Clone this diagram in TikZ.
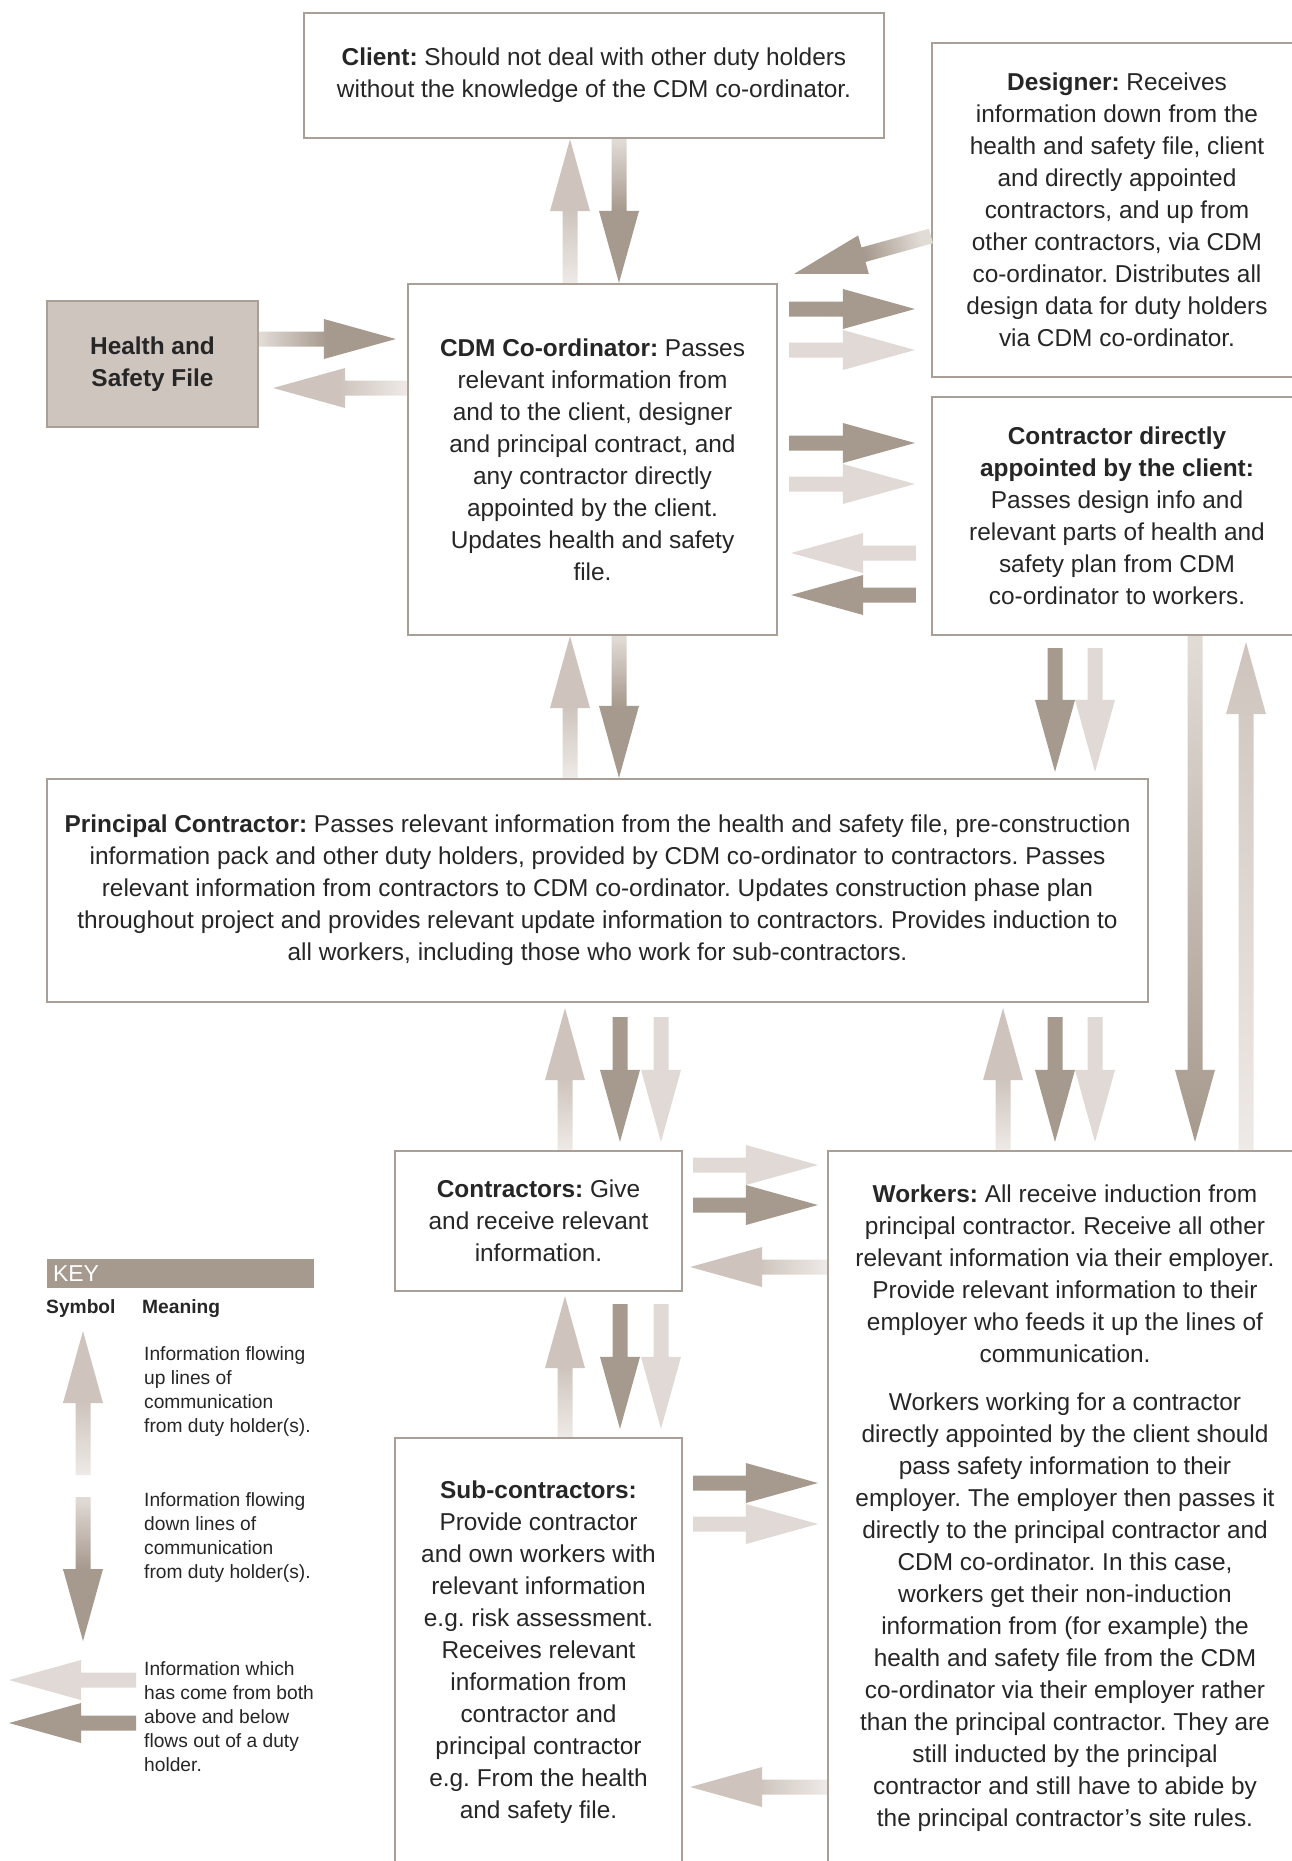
\documentclass[tikz,border=0pt]{standalone}
\usepackage{fontspec}
\setmainfont{Liberation Sans}
\usepackage{tikz}
\usetikzlibrary{calc, positioning}
\frenchspacing

\definecolor{boxline}{RGB}{170,159,150}
\definecolor{ink}{RGB}{38,38,38}
\definecolor{flowdark}{RGB}{166,153,141}
\definecolor{flowup}{RGB}{206,196,189}
\definecolor{flowpale}{RGB}{224,217,213}
\definecolor{uptail}{RGB}{238,234,231}
\definecolor{darktail}{RGB}{226,220,215}
\definecolor{filefill}{RGB}{207,197,191}

\newcommand{\bodyfont}{\fontsize{24.4}{32}\selectfont}
\newcommand{\keyfont}{\fontsize{19.2}{24}\selectfont}

% block arrow from tail #2 to tip #3
\newcommand{\flowarrow}[3][darkflow]{%
  \coordinate (ft) at #2;
  \coordinate (fh) at #3;
  \coordinate (fb) at ($(fh)!72pt!(ft)$);
  \path[#1] ($(ft)!7.5pt!90:(fh)$) -- ($(fb)!7.5pt!-90:(ft)$)
    -- ($(fb)!20pt!-90:(ft)$) -- (fh) -- ($(fb)!20pt!90:(ft)$)
    -- ($(fb)!7.5pt!90:(ft)$) -- ($(ft)!7.5pt!-90:(fh)$) -- cycle;
}

\begin{document}
\begin{tikzpicture}[
        x=1pt, y=-1pt,
        dutybox/.style={
            draw=boxline, line width=2.2pt, fill=white,
            align=center, inner sep=0pt, text=ink, font=\bodyfont
        },
        darkflow/.style={fill=flowdark},
        paleflow/.style={fill=flowpale},
        upfade/.style={bottom color=uptail, top color=flowup, middle color=flowup},
        darkfade/.style={bottom color=darktail, top color=flowdark, middle color=flowdark},
        point up/.style={shading angle=0},
        point down/.style={shading angle=180},
        point left/.style={shading angle=90},
        point right/.style={shading angle=270},
        keytext/.style={anchor=west, align=left, inner sep=0pt, text=ink, font=\keyfont}
    ]
        \useasboundingbox (0,0) rectangle (1292,1861);

        % duty holders
        \node[dutybox, minimum width=580, minimum height=125] (client) at (594,75.5) {
            \textbf{Client:} Should not deal with other duty holders\\
            without the knowledge of the CDM co-ordinator.
        };
        \node[dutybox, minimum width=370, minimum height=334] (designer) at (1117,210) {
            \textbf{Designer:} Receives\\information down from the\\
            health and safety file, client\\and directly appointed\\
            contractors, and up from\\other contractors, via CDM\\
            co-ordinator. Distributes all\\design data for duty holders\\
            via CDM co-ordinator.
        };
        \node[dutybox, minimum width=369, minimum height=351] (cdm) at (592.5,459.5) {
            \textbf{CDM Co-ordinator:} Passes\\relevant information from\\
            and to the client, designer\\and principal contract, and\\
            any contractor directly\\appointed by the client.\\
            Updates health and safety\\file.
        };
        \node[dutybox, fill=filefill, font=\bodyfont\bfseries, minimum width=211, minimum height=126] (hsf) at (152.5,364) {
            Health and\\Safety File
        };
        \node[dutybox, minimum width=370, minimum height=238] (direct) at (1117,516) {
            \textbf{Contractor directly}\\\textbf{appointed by the client:}\\
            Passes design info and\\relevant parts of health and\\
            safety plan from CDM\\co-ordinator to workers.
        };
        \node[dutybox, minimum width=1101, minimum height=223] (principal) at (597.5,890.5) {
            \textbf{Principal Contractor:} Passes relevant information from the health and safety file, pre-construction\\
            information pack and other duty holders, provided by CDM co-ordinator to contractors. Passes\\
            relevant information from contractors to CDM co-ordinator. Updates construction phase plan\\
            throughout project and provides relevant update information to contractors. Provides induction to\\
            all workers, including those who work for sub-contractors.
        };
        \node[dutybox, minimum width=287, minimum height=140] (contractors) at (538.5,1221) {
            \textbf{Contractors:} Give\\and receive relevant\\information.
        };
        \node[dutybox, minimum width=474, minimum height=715] (workers) at (1065,1508.5) {
            \textbf{Workers:} All receive induction from\\principal contractor. Receive all other\\
            relevant information via their employer.\\Provide relevant information to their\\
            employer who feeds it up the lines of\\communication.\\[16pt]
            Workers working for a contractor\\directly appointed by the client should\\
            pass safety information to their\\employer. The employer then passes it\\
            directly to the principal contractor and\\CDM co-ordinator. In this case,\\
            workers get their non-induction\\information from (for example) the\\
            health and safety file from the CDM\\co-ordinator via their employer rather\\
            than the principal contractor. They are\\still inducted by the principal\\
            contractor and still have to abide by\\the principal contractor’s site rules.
        };
        \node[dutybox, minimum width=287, minimum height=428] (sub) at (538.5,1652) {
            \textbf{Sub-contractors:}\\Provide contractor\\and own workers with\\
            relevant information\\e.g. risk assessment.\\Receives relevant\\
            information from\\contractor and\\principal contractor\\
            e.g. From the health\\and safety file.
        };

        % client <-> cdm
        \flowarrow[upfade, point up]{(570,0 |- cdm.north)}{(570,0 |- client.south)}
        \flowarrow[darkfade, point down]{(619,0 |- client.south)}{(619,0 |- cdm.north)}

        % designer <-> cdm
        \flowarrow[darkfade, shading angle=106]{(designer.west |- 0,236)}{($(cdm.north east)+(16,-9)$)}
        \flowarrow[darkflow]{($(cdm.east |- 0,309)+(11,0)$)}{($(designer.west |- 0,309)+(-16,0)$)}
        \flowarrow[paleflow]{($(cdm.east |- 0,350)+(11,0)$)}{($(designer.west |- 0,350)+(-16,0)$)}

        % cdm <-> contractor appointed by client
        \flowarrow[darkflow]{($(cdm.east |- 0,443)+(11,0)$)}{($(direct.west |- 0,443)+(-16,0)$)}
        \flowarrow[paleflow]{($(cdm.east |- 0,484)+(11,0)$)}{($(direct.west |- 0,484)+(-16,0)$)}
        \flowarrow[paleflow]{($(direct.west |- 0,553)+(-15,0)$)}{($(cdm.east |- 0,553)+(13,0)$)}
        \flowarrow[darkflow]{($(direct.west |- 0,595)+(-15,0)$)}{($(cdm.east |- 0,595)+(13,0)$)}

        % health and safety file <-> cdm
        \flowarrow[darkfade, point right]{(hsf.east |- 0,339)}{($(cdm.west |- 0,339)+(-11,0)$)}
        \flowarrow[upfade, point left]{(cdm.west |- 0,388)}{($(hsf.east |- 0,388)+(14,0)$)}

        % cdm <-> principal
        \flowarrow[upfade, point up]{(570,0 |- principal.north)}{(570,0 |- cdm.south)}
        \flowarrow[darkfade, point down]{(619,0 |- cdm.south)}{(619,0 |- principal.north)}

        % contractor appointed by client -> principal, workers
        \flowarrow[darkflow]{($(1055,0 |- direct.south)+(0,12)$)}{($(1055,0 |- principal.north)+(0,-6)$)}
        \flowarrow[paleflow]{($(1095,0 |- direct.south)+(0,12)$)}{($(1095,0 |- principal.north)+(0,-6)$)}
        \flowarrow[bottom color=darktail, top color=flowdark, point down]{(1195,0 |- direct.south)}{($(1195,0 |- workers.north)+(0,-8)$)}
        \flowarrow[bottom color=uptail, top color=flowup, point up]{(1246,0 |- workers.north)}{($(1246,0 |- direct.south)+(0,6)$)}

        % principal <-> contractors
        \flowarrow[upfade, point up]{(565,0 |- contractors.north)}{($(565,0 |- principal.south)+(0,5)$)}
        \flowarrow[darkflow]{($(620,0 |- principal.south)+(0,14)$)}{($(620,0 |- contractors.north)+(0,-8)$)}
        \flowarrow[paleflow]{($(661,0 |- principal.south)+(0,14)$)}{($(661,0 |- contractors.north)+(0,-8)$)}

        % principal <-> workers
        \flowarrow[upfade, point up]{(1003,0 |- workers.north)}{($(1003,0 |- principal.south)+(0,5)$)}
        \flowarrow[darkflow]{($(1055,0 |- principal.south)+(0,14)$)}{($(1055,0 |- workers.north)+(0,-8)$)}
        \flowarrow[paleflow]{($(1095,0 |- principal.south)+(0,14)$)}{($(1095,0 |- workers.north)+(0,-8)$)}

        % contractors <-> workers
        \flowarrow[paleflow]{($(contractors.east |- 0,1165)+(10,0)$)}{($(workers.west |- 0,1165)+(-9,0)$)}
        \flowarrow[darkflow]{($(contractors.east |- 0,1205)+(10,0)$)}{($(workers.west |- 0,1205)+(-9,0)$)}
        \flowarrow[upfade, point left]{(workers.west |- 0,1267)}{($(contractors.east |- 0,1267)+(7,0)$)}

        % contractors <-> sub-contractors
        \flowarrow[upfade, point up]{(565,0 |- sub.north)}{($(565,0 |- contractors.south)+(0,4)$)}
        \flowarrow[darkflow]{($(620,0 |- contractors.south)+(0,12)$)}{($(620,0 |- sub.north)+(0,-8)$)}
        \flowarrow[paleflow]{($(661,0 |- contractors.south)+(0,12)$)}{($(661,0 |- sub.north)+(0,-8)$)}

        % sub-contractors <-> workers
        \flowarrow[darkflow]{($(sub.east |- 0,1483)+(10,0)$)}{($(workers.west |- 0,1483)+(-9,0)$)}
        \flowarrow[paleflow]{($(sub.east |- 0,1524)+(10,0)$)}{($(workers.west |- 0,1524)+(-9,0)$)}
        \flowarrow[upfade, point left]{(workers.west |- 0,1787)}{($(sub.east |- 0,1787)+(7,0)$)}

        % key
        \node[fill=flowdark, text=white, font=\fontsize{23}{27}\selectfont, minimum height=29,
              text width=255, inner xsep=6pt, inner ysep=0pt, align=left] (keybar) at (180.5,1273.5) {KEY};
        \node[keytext, font=\keyfont\bfseries] (symbolhead) at (46,1309) {Symbol};
        \node[keytext, font=\keyfont\bfseries] (meaninghead) at (142,1309) {Meaning};
        \node[keytext] (keyup) at (144,1392) {Information flowing\\up lines of\\communication\\from duty holder(s).};
        \node[keytext] (keydown) at (144,1538) {Information flowing\\down lines of\\communication\\from duty holder(s).};
        \node[keytext] (keyboth) at (144,1717) {Information which\\has come from both\\above and below\\flows out of a duty\\holder.};

        \coordinate (kuptail) at (83,1475);
        \coordinate (kuptip) at (83,1331);
        \coordinate (kdowntail) at (83,1497);
        \coordinate (kdowntip) at (83,1641);
        \coordinate (kpaletail) at (136,1680);
        \coordinate (kpaletip) at (9,1680);
        \coordinate (kdarktail) at (136,1723);
        \coordinate (kdarktip) at (9,1723);
        \flowarrow[upfade, point up]{(kuptail)}{(kuptip)}
        \flowarrow[darkfade, point down]{(kdowntail)}{(kdowntip)}
        \flowarrow[paleflow]{(kpaletail)}{(kpaletip)}
        \flowarrow[darkflow]{(kdarktail)}{(kdarktip)}
    \end{tikzpicture}
\end{document}
